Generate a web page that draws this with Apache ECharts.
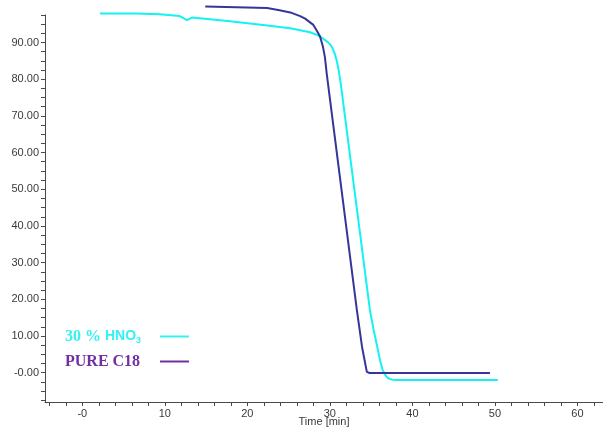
<!DOCTYPE html>
<html>
<head>
<meta charset="utf-8">
<script src="https://cdn.jsdelivr.net/npm/echarts@6/dist/echarts.min.js"></script>
<style>html,body{margin:0;padding:0;background:#fff}#c{width:603px;height:427px}</style>
</head>
<body>
<div id="c"></div>
<script>
// ---- data ----
var hno3Time  = [2.15, 6.4, 9.4, 11.8, 12.7, 13.3, 17.9, 21.9, 25.2, 27.6, 28.5, 29.1, 29.75, 30.1, 30.36, 30.62, 30.85, 31.09, 31.33, 34.85, 35.3, 35.82, 36.1, 36.4, 36.7, 37.0, 37.5, 37.9, 50.35];
var hno3Value = [97.9, 97.9, 97.7, 97.2, 96.1, 96.8, 95.8, 94.8, 93.9, 92.8, 92.0, 91.2, 90.1, 89.3, 88.2, 86.8, 84.9, 82.2, 78.6, 17.1, 11.7, 6.2, 3.2, 0.7, -0.6, -1.45, -1.9, -2.0, -2.0];
var c18Time   = [14.9, 22.4, 23.9, 25.2, 26.4, 27.0, 27.6, 28.0, 28.3, 28.8, 29.15, 29.4, 29.63, 33.27, 33.9, 34.48, 34.8, 35.5, 49.4];
var c18Value  = [99.8, 99.4, 98.8, 98.2, 97.2, 96.5, 95.5, 94.8, 93.7, 91.7, 89.0, 86.0, 81.3, 17.1, 7.0, 0.2, -0.1, -0.1, -0.1];
var seriesNames = ['30 % HNO3', 'PURE C18'];
var xTickLabels = [0, 10, 20, 30, 40, 50, 60];
var yTickLabels = [0, 10, 20, 30, 40, 50, 60, 70, 80, 90];
var xMinorTicks = [-4, -2, 0, 2, 4, 6, 8, 10, 12, 14, 16, 18, 20, 22, 24, 26, 28, 30, 32, 34, 36, 38, 40, 42, 44, 46, 48, 50, 52, 54, 56, 58, 60, 62];
var yMinorTicks = [-7.5, -5, -2.5, 0, 2.5, 5, 7.5, 10, 12.5, 15, 17.5, 20, 22.5, 25, 27.5, 30, 32.5, 35, 37.5, 40, 42.5, 45, 47.5, 50, 52.5, 55, 57.5, 60, 62.5, 65, 67.5, 70, 72.5, 75, 77.5, 80, 82.5, 85, 87.5, 90, 92.5, 95, 97.5];

function pairs(xs, ys) { return xs.map(function (x, i) { return [x, ys[i]]; }); }

var axisColor = '#4a4a4a';
var labelColor = '#3a3a3a';
var cyan = '#14f2f2';
var navy = '#35359a';
var purple = '#7030a0';
var serif = 'Liberation Serif, Times New Roman, serif';
var sans = 'Liberation Sans, Arial, sans-serif';
var chart = echarts.init(document.getElementById('c'), null, { renderer: 'canvas' });
chart.setOption({
  animation: false,
  backgroundColor: '#fff',
  grid: { left: 45, top: 15, right: 0, bottom: 25, containLabel: false, outerBoundsMode: 'none' },
  xAxis: {
    type: 'value', min: -4.52, max: 63.1,
    name: 'Time [min]', nameLocation: 'middle', nameGap: 14, nameMoveOverlap: false,
    nameTextStyle: { fontFamily: sans, fontSize: 11, color: labelColor },
    axisLine: { show: true, onZero: false, lineStyle: { color: axisColor, width: 1 } },
    axisTick: { show: true, length: 4, customValues: xMinorTicks, lineStyle: { color: axisColor } },
    axisLabel: { customValues: xTickLabels, margin: 6, fontFamily: sans, fontSize: 11, color: labelColor,
      formatter: function (v) { return v === 0 ? '-0' : String(v); } },
    splitLine: { show: false }
  },
  yAxis: {
    type: 'value', min: -8.0, max: 97.5,
    axisLine: { show: true, onZero: false, lineStyle: { color: axisColor, width: 1 } },
    axisTick: { show: true, length: 4, customValues: yMinorTicks, lineStyle: { color: axisColor } },
    axisLabel: { customValues: yTickLabels, margin: 6, fontFamily: sans, fontSize: 11, color: labelColor,
      formatter: function (v) { return v === 0 ? '-0.00' : v.toFixed(2); } },
    splitLine: { show: false }
  },
  legend: {
    orient: 'vertical', left: 60, top: 323, align: 'right',
    icon: 'rect', itemWidth: 29, itemHeight: 2, itemGap: 8,
    textStyle: { width: 90, fontFamily: serif, fontWeight: 'bold', fontSize: 16, lineHeight: 17,
      rich: {
        a: { align: 'left', fontFamily: serif, fontWeight: 'bold', fontSize: 16, color: '#33f2f2' },
        b: { align: 'left', fontFamily: sans, fontWeight: 'bold', fontSize: 14, color: '#33f2f2' },
        c: { align: 'left', fontFamily: sans, fontWeight: 'bold', fontSize: 9, color: '#33f2f2', verticalAlign: 'bottom', padding: [6, 0, 0, 0] },
        d: { align: 'left', fontFamily: serif, fontWeight: 'bold', fontSize: 16, color: purple }
      } },
    formatter: function (n) { return n === seriesNames[0] ? '{a|30 % }{b|HNO}{c|3}' : '{d|' + n + '}'; },
    data: [
      { name: seriesNames[0], itemStyle: { color: '#33f2f2' } },
      { name: seriesNames[1], itemStyle: { color: purple } }
    ]
  },
  series: [
    { name: seriesNames[0], type: 'line', data: pairs(hno3Time, hno3Value), showSymbol: false, symbol: 'none', clip: false,
      smooth: false,
      lineStyle: { color: cyan, width: 2 }, itemStyle: { color: cyan } },
    { name: seriesNames[1], type: 'line', data: pairs(c18Time, c18Value), showSymbol: false, symbol: 'none', clip: false,
      smooth: false,
      lineStyle: { color: navy, width: 2 }, itemStyle: { color: navy } }
  ]
});
</script>
</body>
</html>
